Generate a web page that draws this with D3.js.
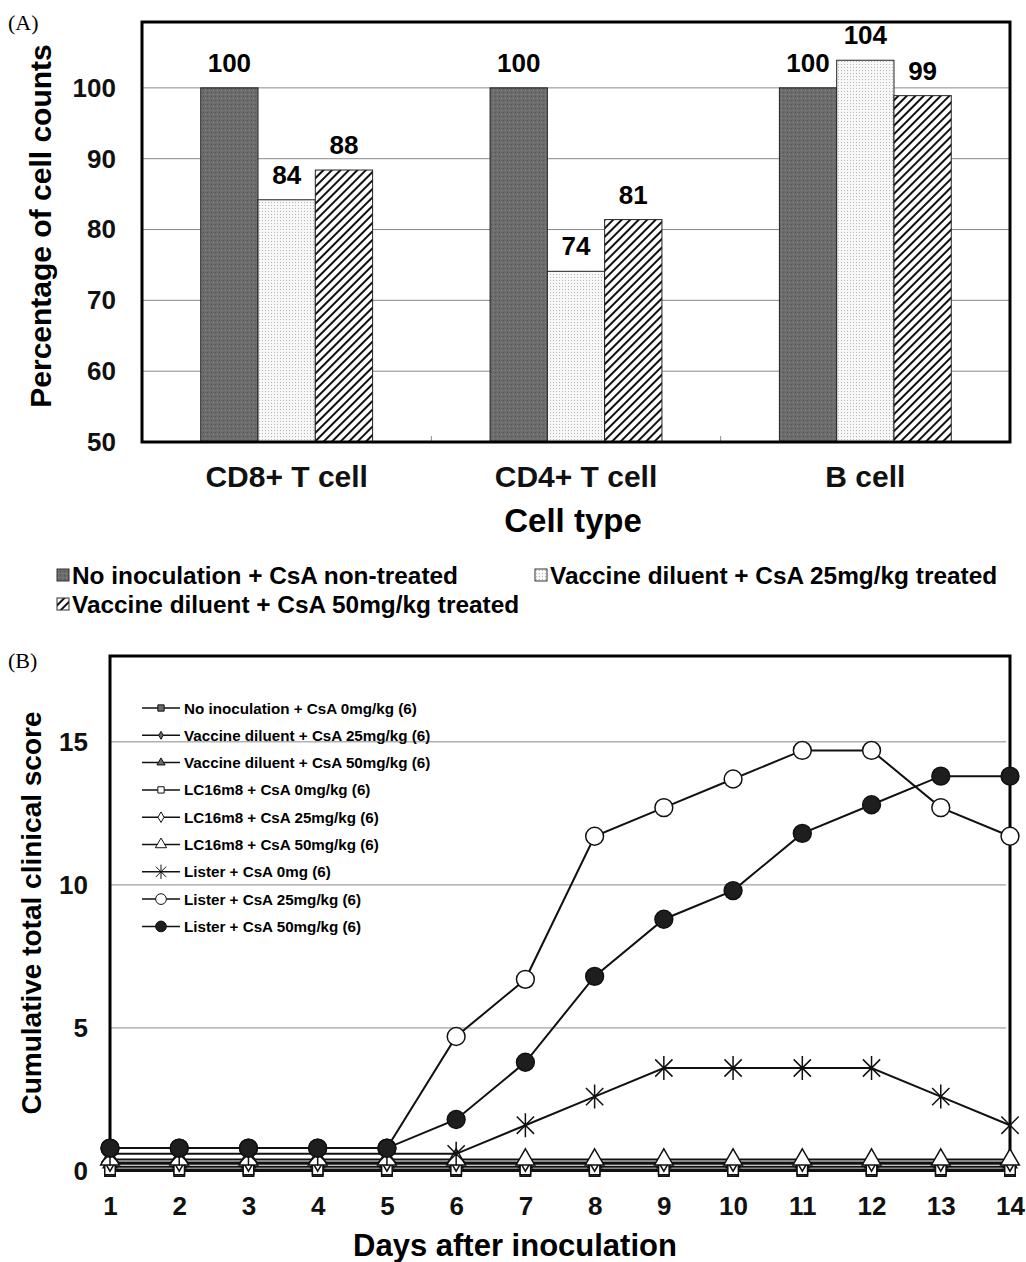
<!DOCTYPE html>
<html>
<head>
<meta charset="utf-8">
<script src="https://cdn.jsdelivr.net/npm/d3@7"></script>
<style>
  body { margin: 0; background: #fff; }
  text { font-family: "Liberation Sans", Arial, sans-serif; }
</style>
</head>
<body>
<svg id="chart"></svg>
<script>
// ---- panel A data
const cellTypes = ["CD8+ T cell", "CD4+ T cell", "B cell"];
const barSeries = ["No inoculation + CsA non-treated", "Vaccine diluent + CsA 25mg/kg treated", "Vaccine diluent + CsA 50mg/kg treated"];
const noInocPct = [100, 100, 100];
const csa25Pct = [84.2, 74.1, 103.9];
const csa50Pct = [88.4, 81.4, 98.9];
const pctTicks = [50, 60, 70, 80, 90, 100];

// ---- panel B data
const days = [1, 2, 3, 4, 5, 6, 7, 8, 9, 10, 11, 12, 13, 14];
const scoreTicks = [0, 5, 10, 15];
const lineNames = [
  "No inoculation + CsA 0mg/kg (6)",
  "Vaccine diluent + CsA 25mg/kg (6)",
  "Vaccine diluent + CsA 50mg/kg (6)",
  "LC16m8 + CsA 0mg/kg (6)",
  "LC16m8 + CsA 25mg/kg (6)",
  "LC16m8 + CsA 50mg/kg (6)",
  "Lister + CsA 0mg (6)",
  "Lister + CsA 25mg/kg (6)",
  "Lister + CsA 50mg/kg (6)"
];
const noInoc0 = [0, 0, 0, 0, 0, 0, 0, 0, 0, 0, 0, 0, 0, 0];
const diluent25 = [0.15, 0.15, 0.15, 0.15, 0.15, 0.15, 0.15, 0.15, 0.15, 0.15, 0.15, 0.15, 0.15, 0.15];
const diluent50 = [0.25, 0.25, 0.25, 0.25, 0.25, 0.25, 0.25, 0.25, 0.25, 0.25, 0.25, 0.25, 0.25, 0.25];
const lc0 = [0.05, 0.05, 0.05, 0.05, 0.05, 0.05, 0.05, 0.05, 0.05, 0.05, 0.05, 0.05, 0.05, 0.05];
const lc25 = [0.3, 0.3, 0.3, 0.3, 0.3, 0.3, 0.3, 0.3, 0.3, 0.3, 0.3, 0.3, 0.3, 0.3];
const lc50 = [0.4, 0.4, 0.4, 0.4, 0.4, 0.4, 0.4, 0.4, 0.4, 0.4, 0.4, 0.4, 0.4, 0.4];
const lister0 = [0.6, 0.6, 0.6, 0.6, 0.6, 0.6, 1.6, 2.6, 3.6, 3.6, 3.6, 3.6, 2.6, 1.6];
const lister25 = [0.8, 0.8, 0.8, 0.8, 0.8, 4.7, 6.7, 11.7, 12.7, 13.7, 14.7, 14.7, 12.7, 11.7];
const lister50 = [0.8, 0.8, 0.8, 0.8, 0.8, 1.8, 3.8, 6.8, 8.8, 9.8, 11.8, 12.8, 13.8, 13.8];

const W = 1026, H = 1262;
const svg = d3.select("#chart").attr("width", W).attr("height", H);
svg.append("rect").attr("width", W).attr("height", H).attr("fill", "#fff");

// patterns for the bars
const defs = svg.append("defs");
const speck = defs.append("pattern").attr("id", "speck").attr("width", 4).attr("height", 4).attr("patternUnits", "userSpaceOnUse");
speck.append("rect").attr("width", 4).attr("height", 4).attr("fill", "#6c6c6c");
speck.append("rect").attr("x", 1).attr("y", 2).attr("width", 1).attr("height", 1).attr("fill", "#8a8a8a");
speck.append("rect").attr("x", 3).attr("y", 0).attr("width", 1).attr("height", 1).attr("fill", "#555");
const dots = defs.append("pattern").attr("id", "dots").attr("width", 3).attr("height", 3).attr("patternUnits", "userSpaceOnUse");
dots.append("rect").attr("width", 3).attr("height", 3).attr("fill", "#f7f7f7");
dots.append("rect").attr("x", 1).attr("y", 1).attr("width", 1).attr("height", 1).attr("fill", "#b8b8b8");
const hatch = defs.append("pattern").attr("id", "hatch").attr("width", 6).attr("height", 6)
  .attr("patternUnits", "userSpaceOnUse").attr("patternTransform", "rotate(45)");
hatch.append("rect").attr("width", 6).attr("height", 6).attr("fill", "#fff");
hatch.append("line").attr("x1", 1).attr("y1", 0).attr("x2", 1).attr("y2", 6).attr("stroke", "#111").attr("stroke-width", 2);
const barFills = ["url(#speck)", "url(#dots)", "url(#hatch)"];

// ================= Panel A =================
const A = { left: 142, right: 1010, top: 22, bottom: 442 };
const xA = d3.scaleBand().domain(cellTypes).range([A.left, A.right]);
const yA = d3.scaleLinear().domain([50, 109.3]).range([A.bottom, A.top]);
const barW = xA.bandwidth() * 0.198;

svg.append("text").attr("x", 8).attr("y", 30).style("font-family", "'Liberation Serif', serif")
  .style("font-size", "22px").text("(A)");

const gA = svg.append("g");
gA.selectAll("line.grid").data(pctTicks.slice(1)).enter().append("line")
  .attr("x1", A.left).attr("x2", A.right)
  .attr("y1", d => yA(d)).attr("y2", d => yA(d))
  .attr("stroke", "#8a8a8a").attr("stroke-width", 1);

// small separator ticks on bottom
gA.selectAll("line.sep").data(cellTypes.slice(1)).enter().append("line")
  .attr("x1", d => xA(d)).attr("x2", d => xA(d))
  .attr("y1", A.bottom).attr("y2", A.bottom - 6)
  .attr("stroke", "#888");

const barData = [];
cellTypes.forEach((c, i) => {
  [noInocPct[i], csa25Pct[i], csa50Pct[i]].forEach((v, j) => barData.push({ cat: c, s: j, v: v }));
});
const groupOff = (xA.bandwidth() - 3 * barW) / 2;
gA.selectAll("rect.bar").data(barData).enter().append("rect")
  .attr("x", d => xA(d.cat) + groupOff + d.s * barW)
  .attr("y", d => yA(d.v))
  .attr("width", barW)
  .attr("height", d => yA(50) - yA(d.v))
  .attr("fill", d => barFills[d.s])
  .attr("stroke", "#222").attr("stroke-width", 1);

gA.selectAll("text.val").data(barData).enter().append("text")
  .attr("x", d => xA(d.cat) + groupOff + (d.s + 0.5) * barW)
  .attr("y", d => yA(d.v) - 16)
  .attr("text-anchor", "middle")
  .style("font-size", "26px").style("font-weight", "bold")
  .text(d => d3.format(".0f")(d.v));

const axA = gA.append("g").attr("transform", `translate(${A.left},0)`)
  .call(d3.axisLeft(yA).tickValues(pctTicks).tickSize(0).tickPadding(26));
axA.select(".domain").remove();
axA.selectAll("text").style("font-size", "26px").style("font-weight", "bold").attr("fill", "#111")
  .style("font-family", "'Liberation Sans', Arial, sans-serif");

const axAx = gA.append("g").attr("transform", `translate(0,${A.bottom})`)
  .call(d3.axisBottom(xA).tickSize(0).tickPadding(24));
axAx.select(".domain").remove();
axAx.selectAll("text").style("font-size", "30px").style("font-weight", "bold").attr("fill", "#111")
  .style("font-family", "'Liberation Sans', Arial, sans-serif");

gA.append("rect").attr("x", A.left).attr("y", A.top)
  .attr("width", A.right - A.left).attr("height", A.bottom - A.top)
  .attr("fill", "none").attr("stroke", "#000").attr("stroke-width", 3);

gA.append("text").attr("x", 573).attr("y", 532).attr("text-anchor", "middle")
  .style("font-size", "33px").style("font-weight", "bold").text("Cell type");
gA.append("text").attr("transform", `translate(51,226) rotate(-90)`).attr("text-anchor", "middle")
  .style("font-size", "30px").style("font-weight", "bold").text("Percentage of cell counts");

// legend A
const legA = [{ x: 57, y: 575 }, { x: 535, y: 575 }, { x: 57, y: 604 }];
barSeries.forEach((s, i) => {
  const g = svg.append("g").attr("transform", `translate(${legA[i].x},${legA[i].y})`);
  g.append("rect").attr("x", 0).attr("y", -6).attr("width", 12).attr("height", 12)
    .attr("fill", barFills[i]).attr("stroke", "#333").attr("stroke-width", 1);
  g.append("text").attr("x", 15).attr("y", 9)
    .style("font-size", "24.4px").style("font-weight", "bold").text(s);
});

// ================= Panel B =================
const B = { left: 110, right: 1010, top: 656, bottom: 1171 };
const xB = d3.scaleLinear().domain([1, 14]).range([B.left, B.right]);
const yB = d3.scaleLinear().domain([0, 18]).range([B.bottom, B.top]);

svg.append("text").attr("x", 8).attr("y", 668).style("font-family", "'Liberation Serif', serif")
  .style("font-size", "22px").text("(B)");

const gB = svg.append("g");
gB.selectAll("line.grid").data(scoreTicks.slice(1)).enter().append("line")
  .attr("x1", B.left).attr("x2", B.right - 4)
  .attr("y1", d => yB(d)).attr("y2", d => yB(d))
  .attr("stroke", "#8a8a8a").attr("stroke-width", 1);

gB.append("path")
  .attr("d", `M${B.left},${B.bottom}V${B.top}H${B.right}V${B.bottom}`)
  .attr("fill", "none").attr("stroke", "#000").attr("stroke-width", 3);

const axBy = gB.append("g").attr("transform", `translate(${B.left},0)`)
  .call(d3.axisLeft(yB).tickValues(scoreTicks).tickSize(0).tickPadding(22));
axBy.select(".domain").remove();
axBy.selectAll("text").style("font-size", "26px").style("font-weight", "bold").attr("fill", "#111")
  .style("font-family", "'Liberation Sans', Arial, sans-serif");

const axBx = gB.append("g").attr("transform", `translate(0,${B.bottom})`)
  .call(d3.axisBottom(xB).tickValues(days).tickFormat(d3.format("d")).tickSize(0).tickPadding(26));
axBx.select(".domain").remove();
axBx.selectAll("text").style("font-size", "26px").style("font-weight", "bold").attr("fill", "#111")
  .style("font-family", "'Liberation Sans', Arial, sans-serif");

gB.append("text").attr("x", 515).attr("y", 1256).attr("text-anchor", "middle")
  .style("font-size", "31px").style("font-weight", "bold").text("Days after inoculation");
gB.append("text").attr("transform", `translate(41,913) rotate(-90)`).attr("text-anchor", "middle")
  .style("font-size", "28px").style("font-weight", "bold").text("Cumulative total clinical score");

// marker drawing
function star(r) {
  const d = r * 0.72;
  return `M0,${-r}V${r}M${-d},${-d}L${d},${d}M${-d},${d}L${d},${-d}`;
}
const lineSeries = [
  { vals: noInoc0, shape: d3.symbolSquare, size: 110, fill: "#6a6a6a" },
  { vals: diluent25, shape: d3.symbolDiamond, size: 50, fill: "#6a6a6a" },
  { vals: diluent50, shape: d3.symbolTriangle, size: 80, fill: "#6a6a6a" },
  { vals: lc0, shape: d3.symbolSquare, size: 110, fill: "#fff" },
  { vals: lc25, shape: d3.symbolDiamond, size: 90, fill: "#fff" },
  { vals: lc50, shape: d3.symbolTriangle, size: 150, fill: "#fff" },
  { vals: lister0, shape: "star", size: 12, fill: "none" },
  { vals: lister25, shape: d3.symbolCircle, size: 250, fill: "#fff" },
  { vals: lister50, shape: d3.symbolCircle, size: 250, fill: "#1e1e1e" }
];
function markerPath(s, scale) {
  if (s.shape === "star") return star(s.size * scale);
  return d3.symbol().type(s.shape).size(s.size * scale * scale)();
}

const line = d3.line().x((d, i) => xB(days[i])).y(d => yB(d));
lineSeries.forEach(s => {
  const g = gB.append("g");
  g.append("path").attr("d", line(s.vals)).attr("fill", "none")
    .attr("stroke", "#111").attr("stroke-width", 2);
  g.selectAll("path.m").data(s.vals).enter().append("path")
    .attr("transform", (d, i) => `translate(${xB(days[i])},${yB(d)})`)
    .attr("d", markerPath(s, 1))
    .attr("fill", s.fill).attr("stroke", "#111").attr("stroke-width", 1.5);
});

// legend B
const legB = gB.append("g").attr("transform", "translate(142,708)");
lineNames.forEach((n, i) => {
  const g = legB.append("g").attr("transform", `translate(0,${i * 27.3})`);
  g.append("line").attr("x1", 0).attr("x2", 38).attr("stroke", "#111").attr("stroke-width", 1.5);
  g.append("path").attr("transform", "translate(19,0)").attr("d", markerPath(lineSeries[i], 0.6))
    .attr("fill", lineSeries[i].fill).attr("stroke", "#111").attr("stroke-width", 1);
  g.append("text").attr("x", 42).attr("y", 5.5)
    .style("font-size", "15.2px").style("font-weight", "bold").text(n);
});
</script>
</body>
</html>
